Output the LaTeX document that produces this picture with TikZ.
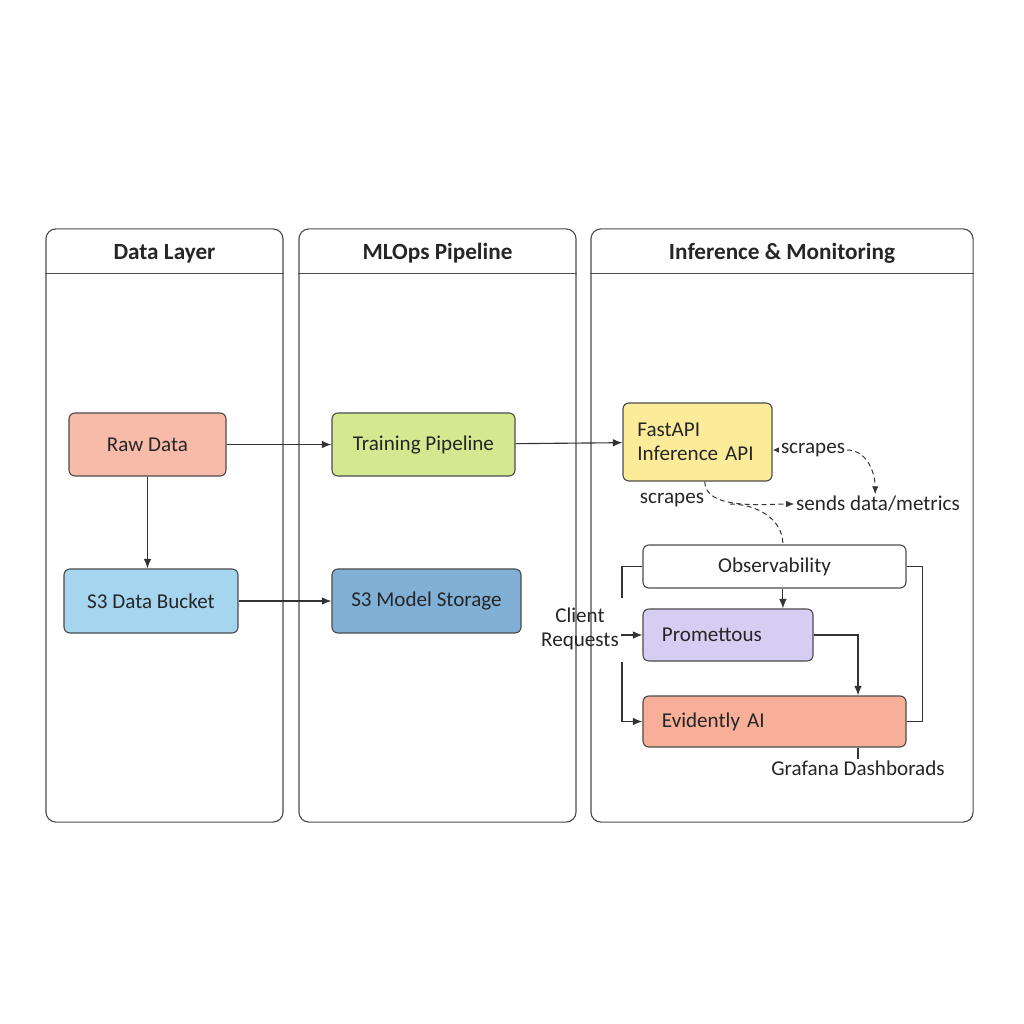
\documentclass[tikz,border=0pt]{standalone}
\usepackage{fontspec}
\setmainfont{Carlito}
\usetikzlibrary{arrows.meta, positioning}

\definecolor{rawfill}{HTML}{F8BBAA}
\definecolor{bucketfill}{HTML}{A6D5F0}
\definecolor{trainfill}{HTML}{D4E98F}
\definecolor{modelfill}{HTML}{80B0D5}
\definecolor{apifill}{HTML}{FCEC9A}
\definecolor{promfill}{HTML}{D6CEF2}
\definecolor{evidfill}{HTML}{F7AF99}
\definecolor{inkgray}{HTML}{333333}

\begin{document}
\begin{tikzpicture}[x=0.025cm, y=-0.025cm, font=\fontsize{15}{17}\selectfont, line width=0.8pt, text=black!85]

% Styles
        \tikzstyle{panel}=[rectangle, draw=black!70, rounded corners=0.25cm, line width=0.8pt]
        \tikzstyle{paneltitle}=[font=\fontsize{16.5}{19}\selectfont\bfseries]
        \tikzstyle{block}=[rectangle, draw=black!70, rounded corners=0.15cm, align=center, line width=0.8pt]
        \tikzstyle{leftblock}=[block, align=left, inner xsep=0.475cm]
        \tikzstyle{tag}=[inner sep=1pt]
        \tikzstyle{arrow}=[-{Latex[length=2.4mm, width=1.9mm]}, draw=inkgray]
        \tikzstyle{link}=[draw=inkgray]
        \tikzstyle{dashlink}=[draw=inkgray, dash pattern=on 3.5pt off 2.5pt, line width=0.7pt]
        \tikzstyle{dasharrow}=[dashlink, -{Latex[length=2mm, width=1.6mm]}]

        \fill[white] (0,0) rectangle (1024,1024);

% Panels
        \node[panel, minimum width=5.925cm, minimum height=14.825cm] (datapanel) at (164.5,525.5) {};
        \node[panel, minimum width=6.925cm, minimum height=14.825cm] (mlopspanel) at (437.5,525.5) {};
        \node[panel, minimum width=9.55cm, minimum height=14.825cm] (infpanel) at (782,525.5) {};

        \draw[draw=black!70] ([yshift=-1.125cm]datapanel.north west) -- ([yshift=-1.125cm]datapanel.north east);
        \draw[draw=black!70] ([yshift=-1.125cm]mlopspanel.north west) -- ([yshift=-1.125cm]mlopspanel.north east);
        \draw[draw=black!70] ([yshift=-1.125cm]infpanel.north west) -- ([yshift=-1.125cm]infpanel.north east);

        \node[paneltitle] (datatitle) at ([yshift=-0.63cm]datapanel.north) {Data Layer};
        \node[paneltitle] (mlopstitle) at ([yshift=-0.63cm]mlopspanel.north) {MLOps Pipeline};
        \node[paneltitle] (inftitle) at ([yshift=-0.63cm]infpanel.north) {Inference \& Monitoring};

% Nodes
% Data Layer
        \node[block, fill=rawfill, minimum width=3.925cm, minimum height=1.575cm] (raw) at (147.5,444.5) {Raw Data};
        \node[block, fill=bucketfill, minimum width=4.35cm, minimum height=1.6cm] (bucket) at (151,601) {S3 Data Bucket};

% MLOps Pipeline
        \node[block, fill=trainfill, minimum width=4.575cm, minimum height=1.575cm] (train) at (423.5,444.5) {Training Pipeline};
        \node[block, fill=modelfill, minimum width=4.725cm, minimum height=1.6cm] (model) at (426.5,601) {S3 Model Storage};

% Inference & Monitoring
        \node[leftblock, inner xsep=0.36cm, fill=apifill, text width=3.005cm, minimum height=1.95cm] (fastapi) at (697.5,442) {FastAPI\\Inference API};
        \node[block, fill=white, minimum width=6.575cm, minimum height=1.075cm] (obs) at (774.5,566.5) {Observability};
        \node[leftblock, fill=promfill, text width=3.3cm, minimum height=1.3cm] (prom) at (728,635) {Promettous};
        \node[leftblock, fill=evidfill, text width=5.625cm, minimum height=1.275cm] (evid) at (774.5,721.5) {Evidently AI};

% Labels
        \node[tag] (scrapesa) at (813,450) {scrapes};
        \node[tag] (scrapesb) at (672,500) {scrapes};
        \node[tag] (sends) at (878,504) {sends data/metrics};
        \node[align=center, inner sep=1pt] (client) at (580,629) {Client\\Requests};
        \node[tag] (grafana) at (858,768) {Grafana Dashborads};

        \coordinate (obsout) at ([xshift=0.21cm]obs.south);
        \coordinate (split) at (730,504);
        \coordinate (ctop) at (622,598);
        \coordinate (cbot) at (622,662);

% Connections
        \draw[arrow] (raw) -- (train);
        \draw[arrow] (train) -- (fastapi);
        \draw[arrow] (raw) -- (raw |- bucket.north);
        \draw[arrow] (bucket) -- (model);

        \draw[arrow] (obsout) -- (obsout |- prom.north);
        \draw[arrow] (prom.east) -| (grafana.north |- evid.north);
        \draw[link] (obs.east) -- ++(16,0) |- (evid.east);
        \draw[link] (obs.west) -| (ctop);
        \draw[arrow] (cbot) |- (evid.west);
        \draw[arrow] (client.east |- prom.west) -- (prom.west);
        \draw[link] (grafana.north |- evid.south) -- (grafana.north);

% Scrape / metric flows
        \draw[-{Latex[length=1.6mm, width=1.4mm]}, draw=inkgray] (scrapesa.west) -- (fastapi.east |- scrapesa.west);
        \draw[dasharrow] (scrapesa.east) to[out=0, in=90] ([xshift=-0.07cm]sends.north);
        \draw[dasharrow] ([xshift=0.18cm]fastapi.south) to[out=-90, in=180, looseness=0.8] (sends.west);
        \draw[dashlink] (split) to[out=0, in=90] (obsout |- obs.north);

    \end{tikzpicture}
\end{document}
